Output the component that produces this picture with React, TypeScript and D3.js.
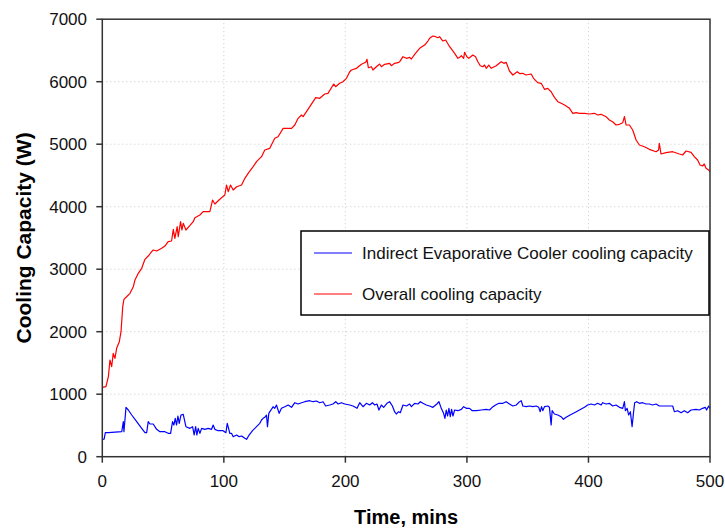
import * as d3 from 'd3';
import * as React from 'react';

const width = 725;
const height = 529;
const plot = { left: 102.3, right: 710, top: 19.2, bottom: 456.7 };

const xTicks = [0, 100, 200, 300, 400, 500];
const yTicks = [0, 1000, 2000, 3000, 4000, 5000, 6000, 7000];

const seriesNames = [
  'Indirect Evaporative Cooler cooling capacity',
  'Overall cooling capacity',
];

// [time (mins), cooling capacity (W)]
const overall: [number, number][] = [
  [0, 1110], [3, 1120], [5, 1280], [6.3, 1547], [7.7, 1440], [9, 1654], [10.4, 1574],
  [11.8, 1734], [14, 1840], [15.4, 2000], [16.8, 2400], [17.8, 2518], [20, 2560],
  [22.8, 2614], [25.5, 2720], [26.9, 2827], [29.6, 2934], [32.4, 3014], [35.1, 3158],
  [37.8, 3211], [40.6, 3280], [41.9, 3307], [44.7, 3291], [48.8, 3334], [51.5, 3371],
  [54.2, 3440], [57, 3451], [58.4, 3638], [59.7, 3494], [61.6, 3680], [62.5, 3520],
  [64.4, 3760], [65.5, 3627], [66.6, 3734], [68.8, 3627], [72, 3696], [74.8, 3760],
  [76.2, 3824], [80.3, 3867], [83, 3920], [88.5, 3920], [90.7, 4107], [92.6, 4043],
  [96.7, 4120], [100.8, 4187], [102.2, 4347], [103.6, 4240], [105.5, 4347], [107.7, 4267],
  [110.5, 4320], [114.6, 4347], [117.3, 4454], [120, 4534], [124.1, 4640], [126.9, 4720],
  [131, 4800], [133.7, 4907], [137.8, 4934], [141.9, 5094], [144.6, 5120], [148.8, 5254],
  [155.7, 5254], [158.4, 5307], [161.1, 5414], [163.9, 5467], [165.2, 5440], [168, 5520],
  [170.7, 5600], [173.4, 5680], [175.6, 5744], [178.9, 5734], [183, 5803], [185.7, 5814],
  [190.4, 5963], [192, 5920], [195.3, 5974], [198, 6000], [200.9, 6054], [203.6, 6160],
  [205, 6187], [209.1, 6214], [213.2, 6278], [216.7, 6310], [217.8, 6358], [218.9, 6224],
  [221.4, 6240], [222.7, 6187], [225.5, 6240], [228.2, 6283], [229.6, 6240], [232.3, 6278],
  [236.4, 6294], [237.8, 6256], [240.5, 6294], [243.3, 6304], [244.7, 6320], [247.4, 6400],
  [250.2, 6374], [252.9, 6390], [254.3, 6363], [257, 6438], [261.1, 6534], [265.2, 6587],
  [267.9, 6651], [269.3, 6694], [272, 6731], [274.2, 6720], [276.1, 6704], [277.5, 6720],
  [280.2, 6651], [282.5, 6667], [285.8, 6560], [289.9, 6454], [292.6, 6374], [294, 6390],
  [295.4, 6416], [297.3, 6374], [298.1, 6470], [300, 6400], [301.6, 6374], [304.9, 6427],
  [307.1, 6400], [309, 6320], [311, 6256], [313.1, 6240], [314.5, 6267], [315.9, 6214],
  [318, 6267], [320, 6214], [324.1, 6256], [328.2, 6320], [330.4, 6294], [332.3, 6310],
  [335, 6171], [337.8, 6107], [341.4, 6160], [343.3, 6130], [346, 6134], [348.5, 6107],
  [352.9, 6123], [354.8, 6054], [358.3, 5984], [361.1, 5974], [363.8, 5878], [366.5, 5894],
  [369.3, 5840], [372, 5750], [374.8, 5680], [377.5, 5654], [380.3, 5627], [384.4, 5574],
  [387.1, 5494], [389.9, 5504], [392.6, 5494], [396.7, 5494], [400.8, 5483], [404.9, 5494],
  [407.6, 5467], [410.4, 5478], [414.5, 5440], [417.2, 5387], [419.9, 5360], [422.7, 5307],
  [425.5, 5318], [428.2, 5344], [429.6, 5440], [431, 5307], [433.7, 5307], [436.4, 5227],
  [439.2, 5067], [441.9, 4987], [446, 4960], [450.1, 4918], [455.6, 4880], [457.7, 4907],
  [458.3, 5014], [459.7, 4843], [463.8, 4864], [469.3, 4880], [474.8, 4843], [477.5, 4827],
  [480.3, 4891], [484.4, 4870], [487.1, 4800], [489.8, 4747], [491.8, 4667], [493.9, 4651],
  [495.3, 4683], [496.7, 4614], [498.9, 4587], [500, 4560],
];

const indirect: [number, number][] = [
  [0, 278], [1.5, 280], [2.5, 384], [5, 384], [16, 400], [17.3, 560], [17.8, 400],
  [19.5, 790], [21.4, 747], [24.2, 667], [28.3, 560], [32.4, 454], [35.1, 384], [36.5, 384],
  [37.8, 560], [39.2, 523], [41.9, 523], [44.7, 438], [47.4, 400], [51.5, 400], [54.2, 374],
  [56.2, 374], [57.8, 560], [58.9, 507], [60, 614], [61.1, 507], [62.2, 651], [63.3, 534],
  [64.7, 667], [66.6, 678], [68.8, 480], [72.1, 454], [74.3, 480], [75.6, 347], [76.8, 480],
  [77.8, 347], [78.9, 454], [80.3, 374], [81.7, 454], [84.4, 438], [87.1, 454], [89.9, 438],
  [91.2, 507], [92.6, 438], [95.3, 416], [99.4, 416], [101.7, 384], [102.8, 534], [103.9, 454],
  [104.9, 374], [106.3, 374], [107.7, 320], [110.5, 347], [112.6, 320], [114.6, 331],
  [117.3, 294], [118.7, 278], [120.8, 347], [123.6, 416], [126.9, 480], [129.6, 534],
  [131, 587], [132.3, 614], [133.7, 630], [135.1, 667], [135.9, 480], [137, 694],
  [138.4, 736], [139.2, 758], [140.5, 800], [141.9, 774], [143.3, 827], [145.5, 694],
  [147.4, 774], [150.2, 800], [152.9, 827], [155.7, 790], [158.4, 864], [161.1, 843],
  [163.9, 864], [166.6, 880], [170.7, 896], [173.4, 880], [176.2, 891], [178.9, 864],
  [181.6, 880], [183.8, 811], [187.1, 827], [189.8, 843], [192.1, 880], [194, 843],
  [196.7, 864], [199.5, 843], [203.6, 827], [206.3, 811], [209.6, 774], [211.8, 864],
  [214.5, 800], [217.3, 854], [220, 827], [222.2, 864], [224.1, 827], [226, 843],
  [227.6, 747], [229.6, 827], [231.5, 790], [234.2, 854], [236.4, 880], [238.7, 811],
  [240.5, 720], [241.9, 683], [243.8, 720], [245.2, 704], [247.4, 827], [250.2, 811],
  [252.9, 843], [254.3, 800], [257, 854], [259.7, 843], [261.7, 880], [263.8, 854],
  [266.6, 827], [269.3, 811], [272, 790], [275.3, 843], [277, 880], [278.9, 774],
  [280.8, 694], [281.9, 614], [283, 747], [284.1, 651], [285.2, 774], [286.3, 640],
  [287.4, 758], [288.5, 651], [289.9, 747], [292.6, 736], [295.4, 758], [297.3, 800],
  [299.5, 774], [302.2, 774], [304.4, 736], [307.7, 736], [311.8, 747], [315.9, 758],
  [318.6, 747], [320.8, 790], [323.6, 827], [326.3, 854], [329.6, 854], [332.3, 880],
  [335, 843], [337.8, 811], [340.6, 827], [343.3, 880], [344.7, 896], [346, 811],
  [348.8, 800], [351.5, 811], [354.2, 800], [357, 811], [359.1, 790], [360.3, 720],
  [361.4, 800], [362.4, 736], [363.8, 800], [366.5, 811], [367.9, 790], [369.3, 507],
  [370.1, 736], [372, 683], [374.8, 667], [377.5, 640], [379.4, 598], [381.6, 630],
  [384.9, 667], [388.5, 704], [392.6, 747], [396.7, 790], [399.4, 827], [402.2, 843],
  [404.9, 827], [407.6, 854], [410.4, 827], [411.7, 864], [414.5, 843], [417.2, 854],
  [419.9, 811], [422.7, 827], [425.5, 790], [428.2, 774], [429.6, 880], [430.4, 736],
  [431.8, 774], [433.1, 667], [434.5, 720], [435.9, 480], [437, 694], [438, 864],
  [439.7, 880], [441.9, 854], [444.6, 864], [447.4, 843], [450.1, 843], [452.8, 827],
  [455.6, 843], [458.3, 811], [461, 811], [465.2, 811], [469.3, 811], [470.7, 720],
  [473.4, 736], [476.2, 704], [478.9, 736], [481.6, 704], [484.4, 747], [488.5, 758],
  [491.2, 747], [493.9, 774], [496.1, 790], [497.2, 747], [498.9, 811], [500, 774],
];

const colors = ['#0000ff', '#ff0000'];
const font = "'Liberation Sans', Arial, sans-serif";

export default function App() {
  const x = d3.scaleLinear().domain([0, 500]).range([plot.left, plot.right]);
  const y = d3.scaleLinear().domain([0, 7000]).range([plot.bottom, plot.top]);

  const line = d3
    .line<[number, number]>()
    .x(d => x(d[0]))
    .y(d => y(d[1]));

  const legend = { x: 301, y: 231, w: 408, h: 84 };

  return (
    <svg
      width={width}
      height={height}
      style={{ position: 'absolute', left: 0, top: 0, background: '#fff' }}
      fontFamily={font}
    >
      {/* grid */}
      <g stroke="#c8c8c8" strokeWidth={1} strokeDasharray="1,3">
        {xTicks.slice(1, -1).map(t => (
          <line key={'gx' + t} x1={x(t)} x2={x(t)} y1={plot.top} y2={plot.bottom} />
        ))}
        {yTicks.slice(1, -1).map(t => (
          <line key={'gy' + t} x1={plot.left} x2={plot.right} y1={y(t)} y2={y(t)} />
        ))}
      </g>

      {/* series */}
      <g fill="none" strokeWidth={1.2} strokeLinejoin="round">
        <path d={line(overall) || ''} stroke={colors[1]} />
        <path d={line(indirect) || ''} stroke={colors[0]} />
      </g>

      {/* frame */}
      <rect
        x={plot.left}
        y={plot.top}
        width={plot.right - plot.left}
        height={plot.bottom - plot.top}
        fill="none"
        stroke="#333"
        strokeWidth={1.5}
      />

      {/* x axis */}
      <g>
        {xTicks.map(t => (
          <g key={'xt' + t} transform={`translate(${x(t)},0)`}>
            <line y1={plot.bottom} y2={plot.bottom + 6} stroke="#333" strokeWidth={1.5} />
            <text y={487} textAnchor="middle" fontSize={17} fill="#111">
              {t}
            </text>
          </g>
        ))}
        <text
          x={(plot.left + plot.right) / 2}
          y={524}
          textAnchor="middle"
          fontSize={20}
          fontWeight="bold"
          fill="#000"
        >
          Time, mins
        </text>
      </g>

      {/* y axis */}
      <g>
        {yTicks.map(t => (
          <g key={'yt' + t} transform={`translate(0,${y(t)})`}>
            <line x1={plot.left - 6} x2={plot.left} stroke="#333" strokeWidth={1.5} />
            <text x={87} y={6} textAnchor="end" fontSize={17} fill="#111">
              {t}
            </text>
          </g>
        ))}
        <text
          transform={`translate(31,${(plot.top + plot.bottom) / 2}) rotate(-90)`}
          textAnchor="middle"
          fontSize={21}
          fontWeight="bold"
          fill="#000"
        >
          Cooling Capacity (W)
        </text>
      </g>

      {/* legend */}
      <g>
        <rect
          x={legend.x}
          y={legend.y}
          width={legend.w}
          height={legend.h}
          fill="#fff"
          stroke="#000"
          strokeWidth={1.5}
        />
        {seriesNames.map((name, i) => (
          <g key={name} transform={`translate(${legend.x},${legend.y + 22 + i * 41})`}>
            <line x1={13} x2={51} stroke={colors[i]} strokeWidth={1.2} />
            <text x={61} y={6} fontSize={17} fill="#111">
              {name}
            </text>
          </g>
        ))}
      </g>
    </svg>
  );
}
